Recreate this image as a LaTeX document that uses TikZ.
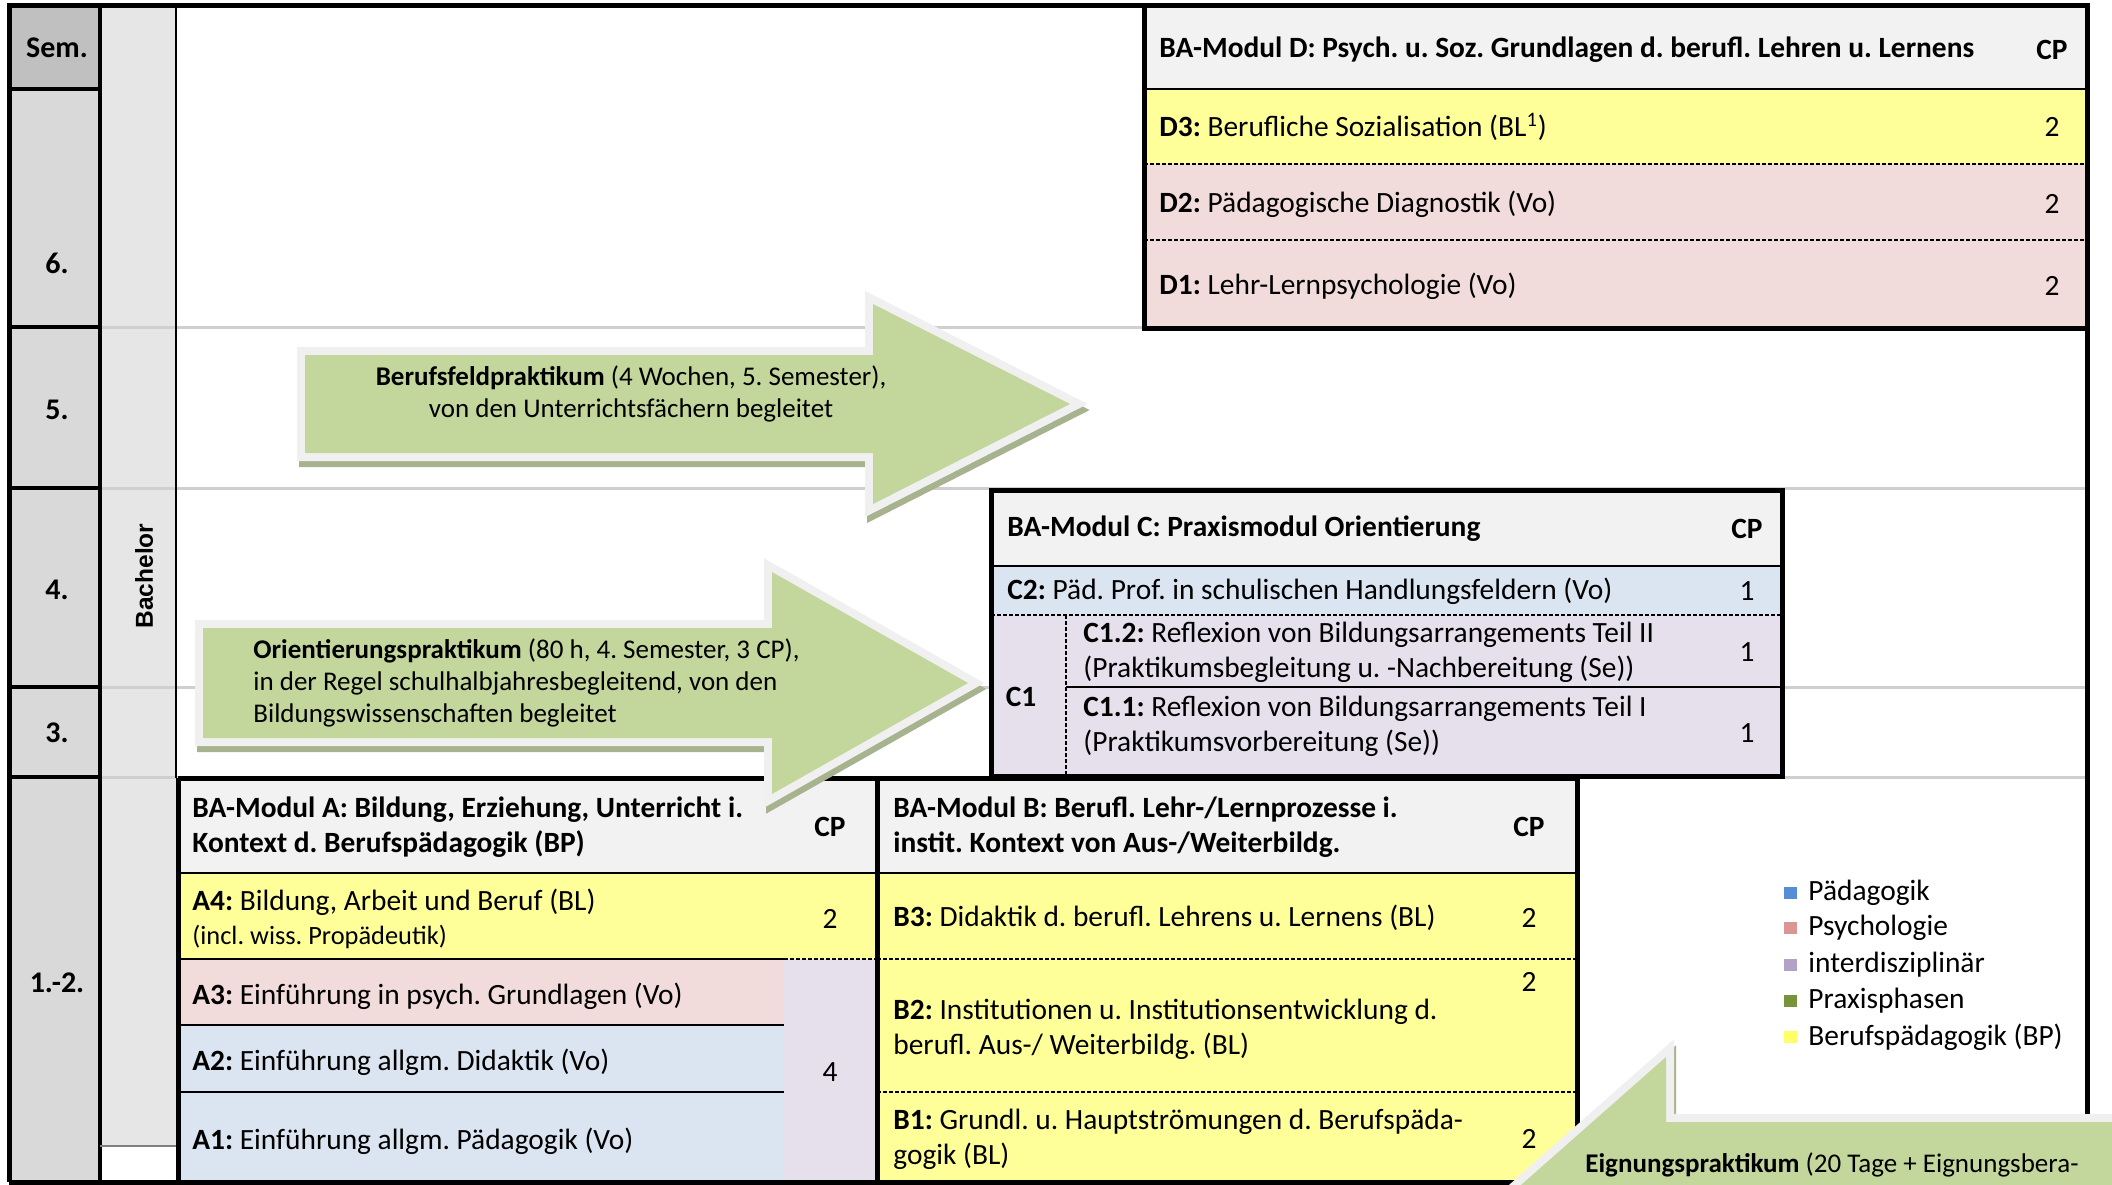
\documentclass[tikz,border=0pt]{standalone}
\usepackage{fontspec}
\setmainfont{Carlito}
\newfontfamily\bachfont{Liberation Sans}
\definecolor{semgray}{HTML}{D9D9D9}
\definecolor{semhead}{HTML}{C0C0C0}
\definecolor{bachgray}{HTML}{E6E6E6}
\definecolor{gridgray}{HTML}{CFCFCF}
\definecolor{headfill}{HTML}{F2F2F2}
\definecolor{yel}{HTML}{FFFF99}
\definecolor{pinkc}{HTML}{F2DCDB}
\definecolor{bluc}{HTML}{DBE5F1}
\definecolor{lavc}{HTML}{E5E0EC}
\definecolor{arrowgreen}{HTML}{C3D69B}
\definecolor{outlinec}{HTML}{F0F0F0}
\definecolor{shadowc}{HTML}{A6B38E}
\definecolor{lgblue}{HTML}{558ED5}
\definecolor{lgpink}{HTML}{D99694}
\definecolor{lgpurple}{HTML}{B3A2C7}
\definecolor{lggreen}{HTML}{77933C}
\definecolor{lgyellow}{HTML}{FFFF66}
\newcommand{\mainsz}{\fontsize{14.7}{17.5}\selectfont}
\newcommand{\smallsz}{\fontsize{13.2}{15}\selectfont}
\newcommand{\arrsz}{\fontsize{13.5}{16}\selectfont}
\newcommand{\semsz}{\fontsize{15}{18}\selectfont\bfseries}
\tikzset{
  thickb/.style={line width=2.5pt, draw=black},
  sepline/.style={line width=1.1pt, draw=black},
  dsep/.style={line width=1pt, draw=black, dash pattern=on 2pt off 1pt},
  gridline/.style={line width=1.5pt, draw=gridgray},
  semline/.style={line width=1.6pt, draw=black},
  txt/.style={anchor=west, inner sep=0pt, font=\mainsz, align=left},
  cpt/.style={anchor=center, inner sep=0pt, font=\mainsz},
  semlbl/.style={anchor=center, inner sep=0pt, font=\semsz},
  arrshadow/.style={fill=shadowc, draw=shadowc, line width=8pt, line join=miter},
  arroutline/.style={draw=outlinec, line width=8pt, line join=miter},
  arrfill/.style={fill=arrowgreen},
  arrtxt/.style={inner sep=0pt, font=\arrsz},
  legbox/.style={inner sep=0pt, minimum width=6.5pt, minimum height=6pt},
}
\begin{document}
\frenchspacing
\begin{tikzpicture}[x=0.5pt,y=-0.5pt]
\useasboundingbox (0,0) rectangle (2112,1184);
\clip (0,0) rectangle (2112,1184);
\fill[white] (0,0) rectangle (2112,1184);

% columns
\fill[semgray] (9,5) rectangle (100,1184);
\fill[semhead] (9,5) rectangle (100,89);
\fill[bachgray] (100,5) rectangle (176,1146);

% grid lines
\foreach \yy in {327,488,687,777} \draw[gridline] (100,\yy) -- (2087,\yy);

% ---------- Module D ----------
\fill[headfill] (1144,5) rectangle (2087,89);
\fill[yel] (1144,89) rectangle (2087,164);
\fill[pinkc] (1144,164) rectangle (2087,328);
\draw[sepline] (1144,89) -- (2087,89);
\draw[dsep] (1144,164) -- (2087,164);
\draw[dsep] (1144,240) -- (2087,240);
\draw[thickb] (1144,5) rectangle (2087,328);
\node[txt, font=\mainsz\bfseries] (dhead) at (1159,50) {BA-Modul D: Psych. u. Soz. Grundlagen d. berufl. Lehren u. Lernens};
\node[cpt, font=\mainsz\bfseries] (dcp) at (2052,50) {CP};
\node[txt] (d3) at (1159,127) {\textbf{D3:} Berufliche Sozialisation (BL\textsuperscript{1})};
\node[cpt] (d3cp) at (2052,127) {2};
\node[txt] (d2) at (1159,204) {\textbf{D2:} Pädagogische Diagnostik (Vo)};
\node[cpt] (d2cp) at (2052,204) {2};
\node[txt] (d1) at (1159,286) {\textbf{D1:} Lehr-Lernpsychologie (Vo)};
\node[cpt] (d1cp) at (2052,286) {2};

% ---------- Module C ----------
\fill[headfill] (991,490) rectangle (1782,566);
\fill[bluc] (991,566) rectangle (1782,615);
\fill[lavc] (991,615) rectangle (1782,776);
\draw[sepline] (991,566) -- (1782,566);
\draw[dsep] (991,615) -- (1782,615);
\draw[dsep, line width=0.6pt] (1066,615) -- (1066,776);
\draw[sepline] (1066,687) -- (1782,687);
\draw[thickb] (991,490) rectangle (1782,776);
\node[txt, font=\mainsz\bfseries] (chead) at (1007,529) {BA-Modul C: Praxismodul Orientierung};
\node[cpt, font=\mainsz\bfseries] (ccp) at (1747,529) {CP};
\node[txt] (c2) at (1007,591) {\textbf{C2:} Päd. Prof. in schulischen Handlungsfeldern (Vo)};
\node[cpt] (c2cp) at (1747,591) {1};
\node[cpt, font=\mainsz\bfseries] (c1) at (1021,697) {C1};
\node[txt] (c12) at (1083,652) {\textbf{C1.2:} Reflexion von Bildungsarrangements Teil II\\(Praktikumsbegleitung u. -Nachbereitung (Se))};
\node[cpt] (c12cp) at (1747,652) {1};
\node[txt] (c11) at (1083,726) {\textbf{C1.1:} Reflexion von Bildungsarrangements Teil I\\(Praktikumsvorbereitung (Se))};
\node[cpt] (c11cp) at (1747,733) {1};

% ---------- Module A ----------
\fill[headfill] (178,778) rectangle (877,873);
\fill[yel] (178,873) rectangle (877,959);
\fill[pinkc] (178,959) rectangle (784,1025);
\fill[bluc] (178,1025) rectangle (784,1190);
\fill[lavc] (784,959) rectangle (877,1190);
\draw[sepline] (178,873) -- (877,873);
\draw[sepline] (178,959) -- (784,959);
\draw[dsep] (784,959) -- (877,959);
\draw[sepline] (178,1025) -- (784,1025);
\draw[sepline] (178,1092) -- (784,1092);
\node[txt, font=\mainsz\bfseries] (ahead) at (192,827) {BA-Modul A: Bildung, Erziehung, Unterricht i.\\Kontext d. Berufspädagogik (BP)};
\node[cpt, font=\mainsz\bfseries] (acp) at (830,827) {CP};
\node[txt] (a4) at (192,902) {\textbf{A4:} Bildung, Arbeit und Beruf (BL)};
\node[txt, font=\smallsz] (a4b) at (192,937) {(incl. wiss. Propädeutik)};
\node[cpt] (a4cp) at (830,919) {2};
\node[txt] (a3) at (192,996) {\textbf{A3:} Einführung in psych. Grundlagen (Vo)};
\node[txt] (a2) at (192,1062) {\textbf{A2:} Einführung allgm. Didaktik (Vo)};
\node[txt] (a1) at (192,1141) {\textbf{A1:} Einführung allgm. Pädagogik (Vo)};
\node[cpt] (acp4) at (830,1072) {4};

% ---------- Module B ----------
\fill[headfill] (877,780) rectangle (1577,873);
\fill[yel] (877,873) rectangle (1577,1190);
\draw[sepline] (877,873) -- (1577,873);
\draw[dsep] (877,959) -- (1577,959);
\draw[dsep] (877,1092) -- (1577,1092);
\node[txt, font=\mainsz\bfseries] (bhead) at (893,827) {BA-Modul B: Berufl. Lehr-/Lernprozesse i.\\instit. Kontext von Aus-/Weiterbildg.};
\node[cpt, font=\mainsz\bfseries] (bcp) at (1529,827) {CP};
\node[txt] (b3) at (893,918) {\textbf{B3:} Didaktik d. berufl. Lehrens u. Lernens (BL)};
\node[cpt] (b3cp) at (1529,918) {2};
\node[txt] (b2) at (893,1029) {\textbf{B2:} Institutionen u. Institutionsentwicklung d.\\berufl. Aus-/ Weiterbildg. (BL)};
\node[cpt] (b2cp) at (1529,982) {2};
\node[txt] (b1) at (893,1139) {\textbf{B1:} Grundl. u. Hauptströmungen d. Berufspäda-\\gogik (BL)};
\node[cpt] (b1cp) at (1529,1139) {2};

% module borders
\draw[thickb] (178,778) -- (877,778);
\draw[thickb] (877,778) -- (1577,778);
\draw[thickb] (178,778) -- (178,1184);
\draw[thickb] (877,778) -- (877,1184);
\draw[thickb] (1577,778) -- (1577,1184);

% semester column lines
\draw[line width=2pt] (100,5) -- (100,1184);
\foreach \yy in {89,327,488,687,777} \draw[semline] (9,\yy) -- (100,\yy);
\draw[line width=0.8pt] (176,5) -- (176,778);
\draw[line width=0.9pt, draw=gray] (100,1146) -- (176,1146);

% outer frame
\draw[thickb] (9,1182) -- (9,5) -- (2087,5) -- (2087,1182);
\draw[thickb] (9,1182) -- (2087,1182);

% semester labels
\node[semlbl] (ssem) at (57,48) {Sem.};
\node[semlbl] (s6) at (57,263) {6.};
\node[semlbl] (s5) at (57,410) {5.};
\node[semlbl] (s4) at (57,590) {4.};
\node[semlbl] (s3) at (57,733) {3.};
\node[semlbl] (s12) at (57,983) {1.-2.};
\node[rotate=90, inner sep=0pt, font=\fontsize{12.25}{14}\bachfont\bfseries] (bach) at (144,576) {Bachelor};

% ---------- Arrows ----------
\def\arrB{(305,355) -- (873,355) -- (873,304) -- (1070,404) -- (873,504) -- (873,453) -- (305,453) -- cycle}
\draw[arrshadow, shift={(2,6)}] \arrB;
\draw[arroutline] \arrB;
\fill[arrfill] \arrB;
\node[arrtxt, align=center] (berufsfeld) at (631,394) {\textbf{Berufsfeldpraktikum} (4 Wochen, 5. Semester),\\von den Unterrichtsfächern begleitet};

\def\arrO{(203,628) -- (772,628) -- (772,572) -- (968,683) -- (772,794) -- (772,738) -- (203,738) -- cycle}
\draw[arrshadow, shift={(2,6)}] \arrO;
\draw[arroutline] \arrO;
\fill[arrfill] \arrO;
\node[arrtxt, anchor=west, align=left] (orient) at (253,683) {\textbf{Orientierungspraktikum} (80 h, 4. Semester, 3 CP),\\in der Regel schulhalbjahresbegleitend, von den\\Bildungswissenschaften begleitet};

\def\arrE{(1436,1260) -- (1666,1057) -- (1666,1122) -- (2300,1122) -- (2300,1500) -- (1436,1500) -- cycle}
\draw[arrshadow, shift={(2,6)}] \arrE;
\draw[arroutline] \arrE;
\fill[arrfill] \arrE;
\node[arrtxt, anchor=west] (eignung) at (1585,1165) {\textbf{Eignungspraktikum} (20 Tage + Eignungsbera-};

% ---------- Legend ----------
\foreach \yy/\cc/\tt/\nm in {893/lgblue/Pädagogik/la,928/lgpink/Psychologie/lb,965/lgpurple/interdisziplinär/lc,1001/lggreen/Praxisphasen/ld,1037/lgyellow/Berufspädagogik (BP)/le}{
  \node[legbox, fill=\cc] (\nm box) at (1790,\yy) {};
  \node[txt] (\nm) at (1808,\yy) {\tt};
}
\end{tikzpicture}
\end{document}
